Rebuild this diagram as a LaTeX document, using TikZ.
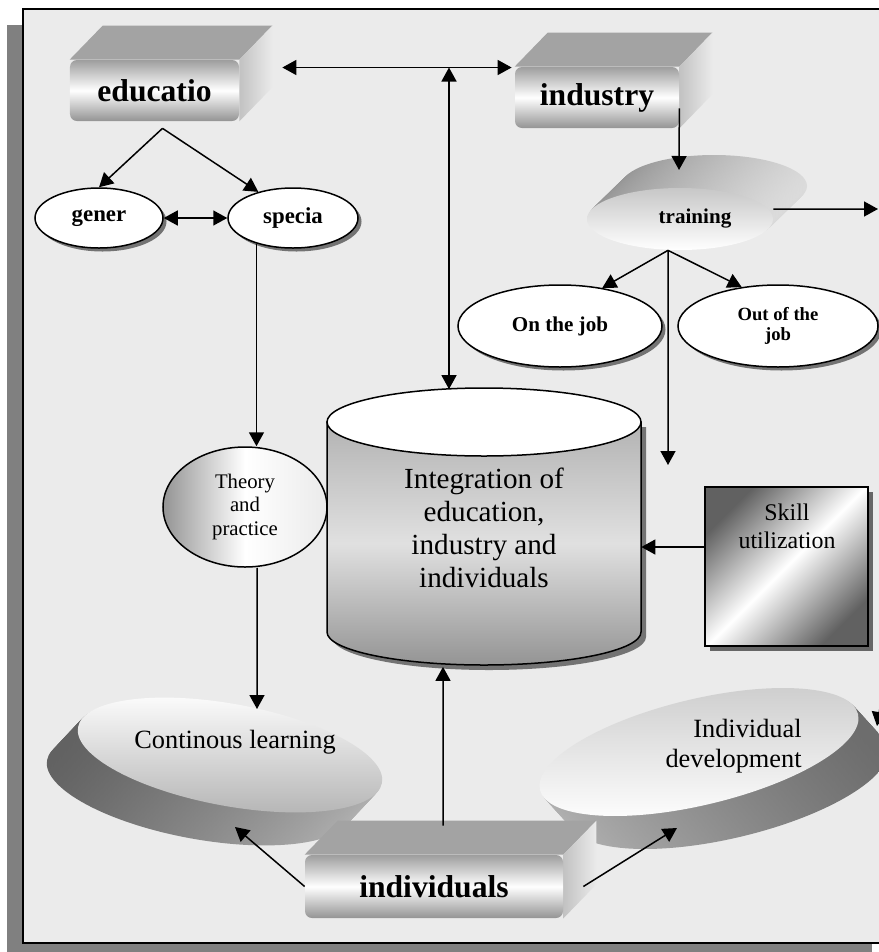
\documentclass[tikz,border=0pt]{standalone}
\usepackage{fontspec}
\setmainfont{Liberation Serif}
\usetikzlibrary{shapes.geometric,arrows.meta,positioning,calc,shadows}
\pgfdeclarelayer{backdrop}
\pgfdeclarelayer{background}
\pgfsetlayers{backdrop,background,main}
\tikzset{
  slab/.style={rectangle, rounded corners=1.4mm, inner sep=0pt, top color=black!38, bottom color=black!42, middle color=white, font=\fontsize{18}{20}\selectfont\bfseries},
  slabtop/.style={fill=black!36},
  slabside/.style={left color=black!24, right color=black!8},
  oval/.style={ellipse, draw, line width=0.3mm, fill=white, inner sep=0pt, drop shadow={shadow xshift=0.7mm, shadow yshift=-0.7mm, fill=black!55, opacity=1}},
  disc/.style={ellipse, inner sep=0pt},
  discbody/.style={disc, left color=black!62, right color=black!30},
  link/.style={line width=0.3mm},
}
\begin{document}
\begin{tikzpicture}[x=0.2mm, y=-0.2mm, >={Triangle[length=2.8mm,width=3mm]}]
  \useasboundingbox (0,0) rectangle (879,952);
  \begin{pgfonlayer}{backdrop}
    % frame
    \fill[black!50] (7,25) rectangle (872,960);
    \filldraw[fill=black!8, line width=0.45mm] (23,9) rectangle (888,943);
    % discs
    \foreach \k in {24,...,1}
      \node[discbody, left color=black!42, right color=black!14, minimum width=37.2mm, minimum height=12.4mm] at ($(680,219)+\k/24*(34,-33)$) {};
    \node[disc, minimum width=37.2mm, minimum height=12.4mm, top color=black!22, bottom color=white, font=\fontsize{12}{14}\selectfont\bfseries] (train) at (680,219) {\hspace*{6mm}training};
    \foreach \k in {24,...,1}
      \node[discbody, rotate=-10.4, minimum width=61.8mm, minimum height=20.4mm] at ($(230,755)+\k/24*(-31,33)$) {};
    \node[disc, rotate=-10.4, minimum width=61.8mm, minimum height=20.4mm, top color=white, bottom color=black!28] (cont) at (230,755) {};
    \foreach \k in {24,...,1}
      \node[discbody, rotate=13.4, left color=black!30, right color=black!58, minimum width=65.4mm, minimum height=21.2mm] at ($(699,752)+\k/24*(30,33)$) {};
    \node[disc, rotate=13.4, minimum width=65.4mm, minimum height=21.2mm, top color=black!20, bottom color=white] (idev) at (699,752) {};
    % cylinder
    \fill[black!55] (332,427) -- (332,637) arc[start angle=180, end angle=360, x radius=31.4mm, y radius=6.6mm] -- (646,427) -- cycle;
    \draw[line width=0.3mm, top color=black!30, bottom color=black!42, middle color=black!12] (327,422) -- (327,632) arc[start angle=180, end angle=360, x radius=31.4mm, y radius=6.6mm] -- (641,422) -- cycle;
    \filldraw[fill=white, line width=0.3mm] (484,422) ellipse [x radius=31.4mm, y radius=6.8mm];
  \end{pgfonlayer}

  \node[slab, minimum width=33.8mm, minimum height=12.2mm] (edu) at (154.5,90.5) {educatio};
  \node[slab, minimum width=32.8mm, minimum height=12.2mm] (ind) at (597,97.5) {industry};
  \node[slab, minimum width=51.6mm, minimum height=12.6mm] (indiv) at (434,886.5) {individuals};
  \node[oval, minimum width=25.6mm, minimum height=12mm, font=\fontsize{13}{15}\selectfont\bfseries] (gen) at (99,218) {gener};
  \node[oval, minimum width=26mm, minimum height=12mm, font=\fontsize{13}{15}\selectfont\bfseries] (spec) at (293,218) {specia};
  \node[oval, minimum width=40.8mm, minimum height=16.4mm, font=\fontsize{12}{14}\selectfont\bfseries] (onjob) at (560,326) {On the job};
  \node[oval, minimum width=40mm, minimum height=16.4mm, align=center, font=\fontsize{10.6}{11.4}\selectfont\bfseries] (outjob) at (778,326) {Out of the\\job};
  \node[ellipse, draw, line width=0.3mm, inner sep=0pt, left color=black!42, right color=black!8, middle color=white, minimum width=32.8mm, minimum height=24mm, align=center, font=\fontsize{11.8}{13.6}\selectfont] (theory) at (245,507) {Theory\\and\\practice};
  \node[align=center, minimum width=62.8mm, minimum height=55.4mm, font=\fontsize{16.6}{18.9}\selectfont] (integ) at (484,528) {Integration of\\education,\\industry and\\individuals};
  \node[rectangle, draw, line width=0.3mm, top color=black!62, bottom color=black!62, middle color=white, shading angle=45, minimum width=32.6mm, minimum height=31.8mm, drop shadow={shadow xshift=1mm, shadow yshift=-1mm, fill=black!60, opacity=1}] (skill) at (786.5,566.5) {};
  \node[align=center, font=\fontsize{13.6}{15.9}\selectfont] (skilltxt) at (787,526) {Skill\\utilization};
  \node[font=\fontsize{15}{17}\selectfont] (conttxt) at (235,742) {Continous learning};
  \node[align=right, anchor=east, inner sep=0pt, font=\fontsize{15}{17}\selectfont] (idevtxt) at (802,746) {Individual\\development};

  \coordinate (hub) at (449,67.5);
  \coordinate (clrtop) at (257,709);
  \coordinate (clrbot) at (235,827);
  \coordinate (idevbot) at (677,828);
  \coordinate (trtop) at (679,170);
  \coordinate (trout) at (878,209);
  \coordinate (trdn) at (668,465);
  \coordinate (edgein) at (880,708);
  \coordinate (edgeout) at (877,726);
  \coordinate (sk) at ([yshift=3.9mm]skill.west);

  \draw[link,<->] ($(edu.east |- hub)+(43,0)$) -- ($(ind.west |- hub)+(-3,0)$);
  \draw[link,<->] (hub) -- (hub |- integ.north);
  \draw[link,->] ([shift={(8,7)}]edu.south) -- (gen.north);
  \draw[link,->] ([shift={(8,7)}]edu.south) -- (spec.143);
  \draw[link,<->] (gen.east) -- (spec.west);
  \draw[link,->] (spec.215) -- (spec.215 |- theory.north);
  \draw[link,->] ([xshift=2.4mm]theory.south) -- (clrtop);
  \draw[link,->] (indiv.west) -- (clrbot);
  \draw[link,->] ([xshift=4mm]indiv.east) -- (idevbot);
  \draw[link,->] ([shift={(9,-29)}]indiv.north) -- ([xshift=-8.2mm]integ.south);
  \draw[link,->] ([yshift=4mm]ind.south east) -- (trtop);
  \draw[link,->] ([yshift=2mm]train.east) -- (trout);
  \draw[link,->] ([xshift=-2.4mm]train.south) -- (onjob.42);
  \draw[link,->] ([xshift=-2.4mm]train.south) -- (outjob.133);
  \draw[link,->] ([xshift=-2.4mm]train.south) -- (trdn);
  \draw[link,->] (sk) -- (sk -| integ.east);
  \draw[link,->] (edgein) -- (edgeout);

  \begin{pgfonlayer}{background}
    \foreach \b in {edu,ind,indiv}{
      \fill[slabtop] (\b.north west) -- ++(33,-34) -- ($(\b.north east)+(33,-34)$) -- (\b.north east) -- cycle;
      \shade[slabside] (\b.north east) -- ++(33,-34) -- ($(\b.south east)+(33,-34)$) -- (\b.south east) -- cycle;
    }
  \end{pgfonlayer}
\end{tikzpicture}
\end{document}
